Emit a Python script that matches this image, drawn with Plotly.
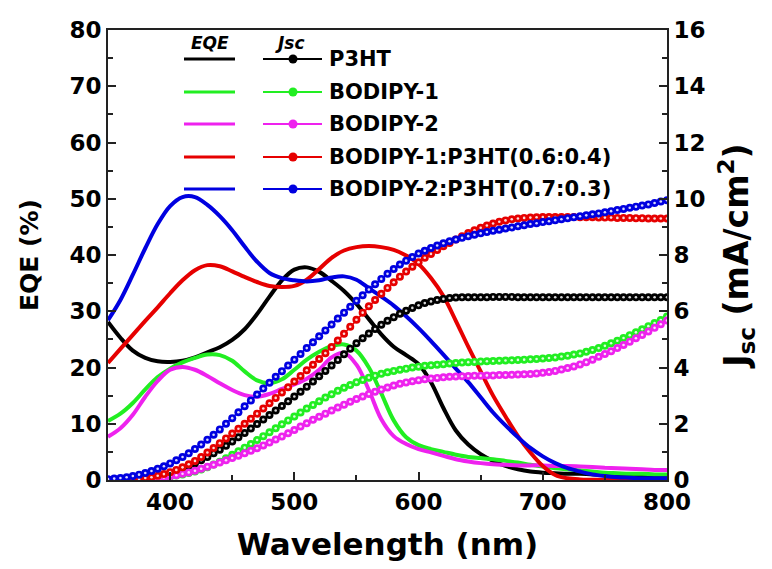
import plotly.graph_objects as go

# ---------------- data ----------------
wl_eqe = [350, 360, 370, 380, 390, 400, 410, 420, 430, 440, 450, 460, 470, 480, 490,
          500, 510, 520, 530, 540, 550, 560, 570, 580, 590, 600, 610, 620, 630, 640,
          650, 660, 670, 680, 690, 700, 710, 720, 730, 740, 750, 760, 770, 780, 790, 800]

eqe_p3ht = [28.1, 25.3, 23.0, 21.7, 21.1, 21.0, 21.2, 21.8, 22.7, 23.6, 24.9, 26.8, 29.5, 32.6, 35.5,
            37.4, 37.8, 37.0, 35.4, 33.6, 31.3, 28.6, 25.9, 23.7, 22.2, 20.6, 17.4, 12.8, 8.8, 6.3,
            4.6, 3.4, 2.5, 1.9, 1.5, 1.3, 1.2, 1.1, 1.1, 1.0, 1.0, 0.9, 0.9, 0.9, 0.8, 0.8]
eqe_b1 = [10.5, 11.8, 13.7, 16.1, 18.3, 19.8, 20.9, 21.7, 22.3, 22.2, 21.2, 19.3, 17.7, 17.2, 17.9,
          19.6, 21.4, 22.8, 23.8, 24.1, 23.0, 20.0, 15.4, 10.6, 7.6, 6.2, 5.5, 5.0, 4.5, 4.1,
          3.9, 3.7, 3.4, 3.1, 2.7, 2.4, 2.1, 1.9, 1.7, 1.5, 1.3, 1.2, 1.1, 1.1, 1.0, 1.0]
eqe_b2 = [7.7, 9.2, 11.6, 14.8, 17.6, 19.6, 20.1, 19.6, 18.5, 17.2, 16.0, 15.1, 14.8, 15.3, 16.2,
          17.0, 18.0, 19.6, 21.8, 22.6, 20.5, 16.0, 10.8, 7.8, 6.4, 5.5, 4.9, 4.3, 3.7, 3.3,
          3.0, 2.8, 2.7, 2.6, 2.6, 2.6, 2.5, 2.5, 2.4, 2.3, 2.2, 2.1, 2.0, 1.9, 1.8, 1.8]
eqe_b1p = [20.8, 23.3, 25.8, 28.3, 30.7, 33.2, 35.5, 37.3, 38.2, 38.0, 37.1, 36.1, 35.2, 34.5, 34.3,
           34.5, 35.6, 37.5, 39.5, 40.8, 41.4, 41.6, 41.4, 40.9, 39.9, 38.4, 35.9, 32.7, 28.3, 23.7,
           19.3, 15.0, 11.3, 7.8, 4.9, 2.5, 0.9, 0.3, 0.1, 0.05, 0.0, 0.0, 0.0, 0.0, 0.0, 0.0]
eqe_b2p = [28.4, 32.0, 36.5, 41.2, 45.5, 48.7, 50.3, 50.3, 48.9, 46.9, 44.4, 41.5, 38.8, 36.8, 35.9,
           35.5, 35.3, 35.5, 36.0, 36.2, 35.6, 34.1, 32.6, 31.0, 29.1, 27.0, 24.7, 22.3, 19.8, 17.4,
           14.7, 12.0, 9.7, 7.6, 5.7, 4.2, 3.0, 2.1, 1.5, 1.0, 0.7, 0.5, 0.4, 0.3, 0.3, 0.3]

wl_jsc = [350, 355, 360, 365, 370, 375, 380, 385, 390, 395,
          400, 405, 410, 415, 420, 425, 430, 435, 440, 445,
          450, 455, 460, 465, 470, 475, 480, 485, 490, 495,
          500, 505, 510, 515, 520, 525, 530, 535, 540, 545,
          550, 555, 560, 565, 570, 575, 580, 585, 590, 595,
          600, 605, 610, 615, 620, 625, 630, 635, 640, 645,
          650, 655, 660, 665, 670, 675, 680, 685, 690, 695,
          700, 705, 710, 715, 720, 725, 730, 735, 740, 745,
          750, 755, 760, 765, 770, 775, 780, 785, 790, 795, 800]

jsc_p3ht = [0, 0, 0, 0, 0, 0, 0.02, 0.05, 0.10, 0.15,
            0.22, 0.30, 0.39, 0.49, 0.59, 0.70, 0.82, 0.95, 1.08, 1.22,
            1.37, 1.52, 1.67, 1.83, 1.99, 2.15, 2.31, 2.47, 2.63, 2.80,
            2.97, 3.14, 3.32, 3.50, 3.69, 3.88, 4.07, 4.27, 4.47, 4.67,
            4.86, 5.04, 5.21, 5.37, 5.52, 5.66, 5.79, 5.91, 6.02, 6.12,
            6.21, 6.29, 6.35, 6.40, 6.44, 6.47, 6.49, 6.50, 6.50, 6.50,
            6.50, 6.50, 6.51, 6.51, 6.51, 6.51, 6.50, 6.50, 6.50, 6.50,
            6.50, 6.50, 6.50, 6.50, 6.50, 6.50, 6.50, 6.50, 6.50, 6.50,
            6.50, 6.50, 6.50, 6.50, 6.50, 6.50, 6.50, 6.50, 6.50, 6.50, 6.50]
jsc_b1 = [0, 0, 0, 0, 0, 0, 0.02, 0.04, 0.06, 0.09,
          0.12, 0.16, 0.20, 0.25, 0.30, 0.37, 0.45, 0.55, 0.65, 0.77,
          0.90, 1.02, 1.15, 1.28, 1.42, 1.56, 1.70, 1.84, 1.98, 2.12,
          2.26, 2.40, 2.54, 2.67, 2.80, 2.93, 3.05, 3.17, 3.28, 3.38,
          3.48, 3.56, 3.64, 3.71, 3.78, 3.83, 3.88, 3.92, 3.96, 4.00,
          4.03, 4.06, 4.08, 4.10, 4.12, 4.14, 4.16, 4.18, 4.19, 4.20,
          4.21, 4.22, 4.23, 4.24, 4.25, 4.26, 4.27, 4.28, 4.29, 4.30,
          4.32, 4.34, 4.36, 4.39, 4.42, 4.46, 4.50, 4.56, 4.62, 4.69,
          4.77, 4.86, 4.95, 5.05, 5.15, 5.25, 5.36, 5.47, 5.58, 5.69, 5.81]
jsc_b2 = [0, 0, 0, 0, 0, 0, 0.02, 0.04, 0.06, 0.09,
          0.13, 0.17, 0.22, 0.27, 0.33, 0.40, 0.47, 0.54, 0.62, 0.70,
          0.78, 0.86, 0.95, 1.04, 1.13, 1.23, 1.33, 1.44, 1.55, 1.66,
          1.78, 1.90, 2.02, 2.14, 2.25, 2.36, 2.47, 2.58, 2.68, 2.78,
          2.88, 2.97, 3.06, 3.14, 3.22, 3.29, 3.36, 3.42, 3.47, 3.51,
          3.55, 3.58, 3.61, 3.63, 3.65, 3.67, 3.68, 3.69, 3.70, 3.71,
          3.71, 3.72, 3.72, 3.73, 3.73, 3.74, 3.75, 3.76, 3.77, 3.79,
          3.81, 3.84, 3.88, 3.93, 3.98, 4.04, 4.11, 4.19, 4.28, 4.38,
          4.48, 4.58, 4.69, 4.80, 4.92, 5.04, 5.16, 5.28, 5.41, 5.54, 5.67]
jsc_b1p = [0, 0, 0, 0.01, 0.02, 0.04, 0.07, 0.10, 0.15, 0.21,
           0.28, 0.36, 0.45, 0.56, 0.68, 0.82, 0.98, 1.14, 1.31, 1.48,
           1.65, 1.82, 2.00, 2.18, 2.36, 2.54, 2.73, 2.92, 3.11, 3.30,
           3.50, 3.70, 3.90, 4.10, 4.30, 4.51, 4.73, 4.96, 5.20, 5.45,
           5.70, 5.95, 6.18, 6.40, 6.62, 6.83, 7.03, 7.23, 7.41, 7.58,
           7.74, 7.90, 8.04, 8.18, 8.31, 8.43, 8.55, 8.67, 8.78, 8.88,
           8.97, 9.05, 9.12, 9.18, 9.23, 9.27, 9.30, 9.32, 9.33, 9.34,
           9.35, 9.35, 9.35, 9.35, 9.35, 9.35, 9.34, 9.34, 9.34, 9.33,
           9.33, 9.33, 9.32, 9.32, 9.32, 9.31, 9.31, 9.30, 9.30, 9.30, 9.30]
jsc_b2p = [0.03, 0.05, 0.07, 0.10, 0.14, 0.19, 0.25, 0.32, 0.40, 0.49,
           0.59, 0.70, 0.82, 0.95, 1.10, 1.26, 1.43, 1.61, 1.80, 2.00,
           2.20, 2.41, 2.62, 2.83, 3.04, 3.25, 3.46, 3.67, 3.87, 4.07,
           4.28, 4.48, 4.69, 4.90, 5.11, 5.32, 5.53, 5.74, 5.95, 6.16,
           6.37, 6.57, 6.77, 6.96, 7.15, 7.33, 7.50, 7.66, 7.80, 7.93,
           8.05, 8.15, 8.25, 8.34, 8.42, 8.49, 8.55, 8.61, 8.67, 8.72,
           8.77, 8.82, 8.86, 8.90, 8.94, 8.98, 9.02, 9.06, 9.10, 9.13,
           9.17, 9.20, 9.24, 9.27, 9.31, 9.34, 9.38, 9.41, 9.45, 9.48,
           9.52, 9.56, 9.60, 9.64, 9.68, 9.72, 9.76, 9.80, 9.85, 9.90, 9.95]

names = ["P3HT", "BODIPY-1", "BODIPY-2", "BODIPY-1:P3HT(0.6:0.4)", "BODIPY-2:P3HT(0.7:0.3)"]
colors = ["#000000", "#22ee22", "#ee22ee", "#e60000", "#0000e0"]
eqe_series = [eqe_p3ht, eqe_b1, eqe_b2, eqe_b1p, eqe_b2p]
jsc_series = [jsc_p3ht, jsc_b1, jsc_b2, jsc_b1p, jsc_b2p]

FONT = "DejaVu Sans"

fig = go.Figure()

for name, col, ys in zip(names, colors, eqe_series):
    fig.add_trace(go.Scatter(x=wl_eqe, y=ys, mode="lines", name=name + " EQE",
                             line=dict(color=col, width=4, shape="spline", smoothing=1.0),
                             showlegend=False))

for name, col, ys in zip(names, colors, jsc_series):
    fig.add_trace(go.Scatter(x=wl_jsc, y=ys, yaxis="y2", mode="lines+markers", name=name + " Jsc",
                             line=dict(color=col, width=1.5),
                             marker=dict(color=col, size=8, line=dict(width=0)),
                             showlegend=False))
    fig.add_trace(go.Scatter(x=wl_jsc, y=ys, yaxis="y2", mode="markers", hoverinfo="skip",
                             marker=dict(color="rgba(255,255,255,0.85)", size=2.6, line=dict(width=0)),
                             showlegend=False))

# ---------------- legend (drawn manually) ----------------
x0p, x1p = 108, 667
y0p, y1p = 480, 30
def px_x(p):
    return (p - x0p) / (x1p - x0p)
def px_y(p):
    return (y0p - p) / (y0p - y1p)

shapes = []
annotations = []
row_y = [59, 92, 124, 157, 189]
for name, col, ry in zip(names, colors, row_y):
    yy = px_y(ry)
    shapes.append(dict(type="line", xref="paper", yref="paper", x0=px_x(184), x1=px_x(235),
                       y0=yy, y1=yy, line=dict(color=col, width=3)))
    shapes.append(dict(type="line", xref="paper", yref="paper", x0=px_x(263), x1=px_x(322),
                       y0=yy, y1=yy, line=dict(color=col, width=2)))
    shapes.append(dict(type="circle", xref="paper", yref="paper", xsizemode="pixel", ysizemode="pixel",
                       xanchor=px_x(293), yanchor=yy, x0=-4.5, x1=4.5, y0=-4.5, y1=4.5,
                       fillcolor=col, line=dict(width=0)))
    annotations.append(dict(xref="paper", yref="paper", x=px_x(327), y=yy, xanchor="left", yanchor="middle",
                            text="<b>" + name + "</b>", showarrow=False,
                            font=dict(family=FONT, size=21, color="black")))

annotations.append(dict(xref="paper", yref="paper", x=px_x(210), y=px_y(43), xanchor="center", yanchor="middle",
                        text="<b><i>EQE</i></b>", showarrow=False, font=dict(family=FONT, size=17, color="black")))
annotations.append(dict(xref="paper", yref="paper", x=px_x(290), y=px_y(43), xanchor="center", yanchor="middle",
                        text="<b><i>Jsc</i></b>", showarrow=False, font=dict(family=FONT, size=17, color="black")))

tickfont = dict(family=FONT, size=23, color="black", weight="bold")
axis_common = dict(showgrid=False, zeroline=False, showline=True, linewidth=2, linecolor="#222",
                   ticks="inside", ticklen=8, tickwidth=2, tickcolor="#222", tickfont=tickfont)

fig.update_layout(
    width=772, height=569,
    margin=dict(l=108, r=105, t=30, b=89),
    plot_bgcolor="white", paper_bgcolor="white",
    showlegend=False,
    shapes=shapes, annotations=annotations,
    xaxis=dict(range=[350, 800], dtick=100, tick0=400, mirror=True,
               minor=dict(dtick=50, ticks="inside", ticklen=5, tickwidth=2, tickcolor="#222"),
               title=dict(text="<b>Wavelength (nm)</b>", font=dict(family=FONT, size=31, color="black"), standoff=20),
               **axis_common),
    yaxis=dict(range=[0, 80], dtick=10,
               minor=dict(dtick=5, ticks="inside", ticklen=5, tickwidth=2, tickcolor="#222"),
               title=dict(text="<b>EQE (%)</b>", font=dict(family=FONT, size=25, color="black"), standoff=24),
               **axis_common),
    yaxis2=dict(range=[0, 16], dtick=2, overlaying="y", side="right",
                minor=dict(dtick=1, ticks="inside", ticklen=5, tickwidth=2, tickcolor="#222"),
                title=dict(text="<b>J<sub>sc</sub> (mA/cm<sup>2</sup>)</b>", font=dict(family=FONT, size=33, color="black"), standoff=20),
                **axis_common),
)

fig.write_html("out.html")
